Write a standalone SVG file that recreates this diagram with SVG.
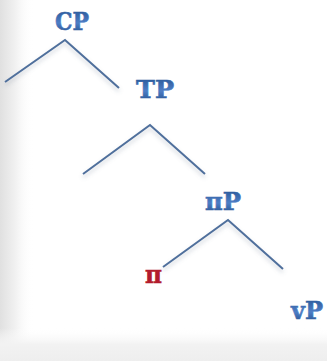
<svg xmlns="http://www.w3.org/2000/svg" width="327" height="361" viewBox="0 0 327 361">
  <defs>
    <linearGradient id="edgeL" x1="0" y1="0" x2="1" y2="0">
      <stop offset="0" stop-color="#e0e0e0"/>
      <stop offset="0.45" stop-color="#f1f1f1"/>
      <stop offset="1" stop-color="#ffffff" stop-opacity="0"/>
    </linearGradient>
    <linearGradient id="edgeB" x1="0" y1="0" x2="0" y2="1">
      <stop offset="0" stop-color="#ffffff" stop-opacity="0"/>
      <stop offset="0.5" stop-color="#f2f2f2"/>
      <stop offset="1" stop-color="#eeeeee"/>
    </linearGradient>
    <linearGradient id="blueText" x1="0" y1="0" x2="0" y2="1">
      <stop offset="0" stop-color="#22508f"/>
      <stop offset="0.55" stop-color="#4e7ec6"/>
      <stop offset="1" stop-color="#1d4884"/>
    </linearGradient>
    <filter id="shadow" x="-20%" y="-20%" width="140%" height="160%">
      <feDropShadow dx="0" dy="3" stdDeviation="2" flood-color="#6a7a90" flood-opacity="0.35"/>
    </filter>
  </defs>
  <style>
    .label { font-family: "DejaVu Serif", "Liberation Serif", serif; font-weight: bold; font-size: 24px; fill: url(#blueText); stroke: url(#blueText); stroke-width: 0.6; }
    .head { font-family: "DejaVu Serif", "Liberation Serif", serif; font-weight: bold; font-size: 24px; fill: #b31b2c; stroke: #b31b2c; stroke-width: 0.6; }
    .branch { fill: none; stroke: #4f6f9c; stroke-width: 2; stroke-linejoin: miter; filter: url(#shadow); }
  </style>

  <!-- page background with soft grey edges -->
  <rect width="327" height="361" fill="#ffffff"/>
  <rect x="0" y="0" width="34" height="361" fill="url(#edgeL)"/>
  <rect x="0" y="328" width="327" height="33" fill="url(#edgeB)"/>

  <!-- tree branches -->
  <g id="connectors">
    <polyline class="branch" points="5,82 65,40 119,88"/>
    <polyline class="branch" points="83,174 150,125 205,174"/>
    <polyline class="branch" points="163,267 228,220 283,269"/>
  </g>

  <g id="CP"><text class="label" x="55" y="30" textLength="34" lengthAdjust="spacingAndGlyphs">CP</text></g>
  <g id="TP"><text class="label" x="136" y="98" textLength="38" lengthAdjust="spacingAndGlyphs">TP</text></g>
  <g id="piP"><text class="label" x="205" y="210" textLength="36" lengthAdjust="spacingAndGlyphs">πP</text></g>
  <g id="pi"><text class="head" x="145" y="283" textLength="17" lengthAdjust="spacingAndGlyphs">π</text></g>
  <g id="vP"><text class="label" x="291" y="319" textLength="32" lengthAdjust="spacingAndGlyphs">vP</text></g>
</svg>
